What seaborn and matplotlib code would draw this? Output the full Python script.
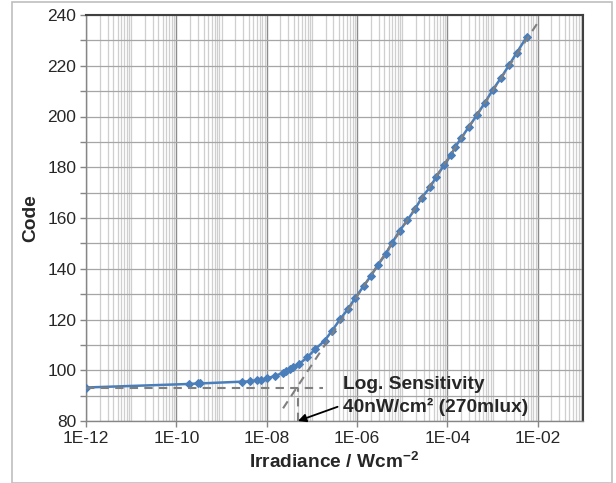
import numpy as np
import pandas as pd
import matplotlib
matplotlib.use("Agg")
import matplotlib.pyplot as plt
import matplotlib.ticker as mticker
from matplotlib.patches import Rectangle
import seaborn as sns

# measured response (irradiance in W/cm2, output code)
irradiance = [1e-12, 1.95e-10, 3.0e-10, 3.3e-10, 2.8e-9, 4.3e-9, 6.0e-9, 7.4e-9,
              1.0e-8, 1.5e-8, 2.3e-8, 2.7e-8, 3.2e-8, 3.9e-8, 5.1e-8, 7.9e-8,
              1.2e-7, 1.9e-7, 2.8e-7, 4.2e-7, 6.2e-7, 9.2e-7, 1.4e-6, 2.0e-6,
              2.9e-6, 4.3e-6, 6.0e-6, 8.7e-6, 1.3e-5, 1.9e-5, 2.7e-5, 4.1e-5,
              5.7e-5, 8.5e-5, 1.2e-4, 1.5e-4, 2.0e-4, 3.0e-4, 4.5e-4, 6.7e-4,
              1.0e-3, 1.5e-3, 2.3e-3, 3.4e-3, 5.7e-3]
code = [93.2, 94.6, 94.8, 94.8, 95.5, 95.6, 96.1, 96.2,
        96.8, 97.7, 99.0, 99.7, 100.4, 101.1, 102.3, 105.1,
        108.4, 111.6, 115.6, 120.1, 124.0, 128.6, 133.2, 137.1,
        141.5, 145.8, 150.3, 154.9, 159.2, 163.4, 168.0, 172.1,
        176.3, 180.9, 184.8, 188.1, 191.4, 196.0, 200.6, 205.4,
        210.4, 215.0, 220.2, 225.1, 231.4]

# construction lines for the log sensitivity
floor_x = [1e-12, 1.8e-7]
floor_y = [93.1, 93.1]
fit_x = [2.3e-8, 1e-2]
fit_y = [85.0, 237.0]
sens_x = [4.8e-8, 4.8e-8]
sens_y = [80.0, 93.1]

df = pd.DataFrame({"Irradiance": irradiance, "Code": code})

sns.set_theme(style="white")
plt.rcParams["font.family"] = ["Liberation Sans", "DejaVu Sans"]
plt.rcParams["mathtext.fontset"] = "custom"
plt.rcParams["mathtext.bf"] = "Liberation Sans:bold"
plt.rcParams["mathtext.rm"] = "Liberation Sans"

fig = plt.figure(figsize=(6.16, 4.83), dpi=100)
fig.patches.append(Rectangle((12 / 616, 0), 600 / 616, 481 / 483, transform=fig.transFigure,
                             fill=False, edgecolor="#bfbfbf", lw=1.2))
ax = fig.add_axes([86 / 616, 1 - 421 / 483, 497 / 616, 406 / 483])

blue = "#4a7ebb"
sns.lineplot(data=df, x="Irradiance", y="Code", ax=ax, color=blue, lw=1.8,
             marker="D", markersize=4.5, markeredgecolor=blue, zorder=3)

dash = dict(color="#7f7f7f", lw=1.5, ls=(0, (4, 3)), zorder=4)
ax.plot(floor_x, floor_y, **dash)
ax.plot(fit_x, fit_y, **dash)
ax.plot(sens_x, sens_y, **dash)

ax.set_xscale("log")
ax.set_xlim(1e-12, 1e-1)
ax.set_ylim(80, 240)

ax.xaxis.set_major_locator(mticker.FixedLocator([10.0 ** e for e in range(-12, -1, 2)]))
minor = [m * 10.0 ** e for e in range(-12, -1) for m in range(1, 10)
         if not (m == 1 and e % 2 == 0)]
ax.xaxis.set_minor_locator(mticker.FixedLocator(minor))
ax.xaxis.set_major_formatter(mticker.FuncFormatter(lambda v, p: f"1E{int(round(np.log10(v))):+03d}"))
ax.xaxis.set_minor_formatter(mticker.NullFormatter())
ax.yaxis.set_major_locator(mticker.MultipleLocator(20))
ax.yaxis.set_minor_locator(mticker.MultipleLocator(10))

ax.grid(which="major", axis="x", color="#8c8c8c", lw=1.0)
ax.grid(which="minor", axis="x", color="#cfcfcf", lw=0.9)
ax.grid(which="both", axis="y", color="#a6a6a6", lw=0.9)
ax.set_axisbelow(True)

ax.tick_params(axis="both", which="major", direction="out", length=4, width=1,
               color="#868686", labelsize=12.5, pad=3, bottom=True, left=True)
ax.tick_params(axis="y", which="minor", direction="out", length=4, width=1,
               color="#868686", left=True)
ax.tick_params(axis="x", which="minor", length=0)

for s in ["left", "bottom"]:
    ax.spines[s].set_color("#868686")
    ax.spines[s].set_linewidth(1.0)
for s in ["top", "right"]:
    ax.spines[s].set_color("#404040")
    ax.spines[s].set_linewidth(1.5)

ax.set_xlabel(r"Irradiance / Wcm$^{\mathbf{-2}}$", fontsize=13.8, fontweight="bold", labelpad=4)
ax.set_ylabel("Code", fontsize=13.8, fontweight="bold", labelpad=6)

ax.text(5.0e-7, 94.3, "Log. Sensitivity", fontsize=13.8, fontweight="bold", ha="left", va="center")
ax.text(5.0e-7, 85.5, "40nW/cm² (270mlux)", fontsize=13.8, fontweight="bold", ha="left", va="center")
ax.annotate("", xy=(4.9e-8, 80), xytext=(3.7e-7, 85.6),
            arrowprops=dict(arrowstyle="-|>", color="black", lw=1.3, mutation_scale=12,
                            shrinkA=0, shrinkB=0), annotation_clip=False, zorder=5)

fig.savefig("out.png", dpi=100)
